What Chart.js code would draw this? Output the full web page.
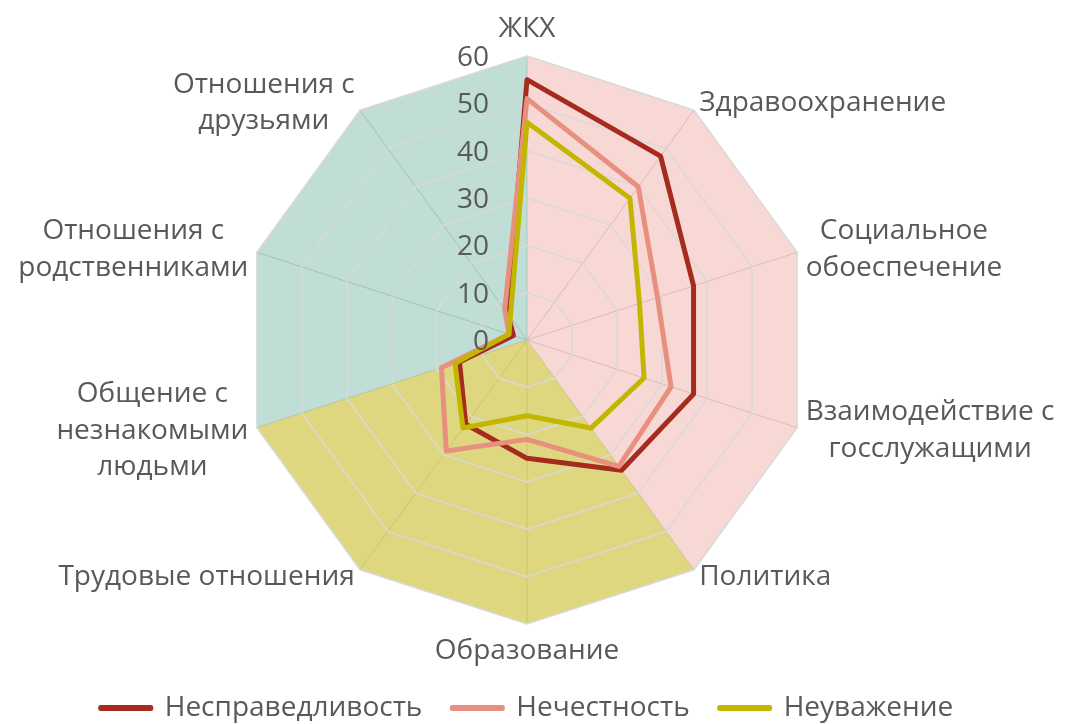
<!DOCTYPE html>
<html lang="ru">
<head>
<meta charset="utf-8">
<title>Радар</title>
<script src="https://cdn.jsdelivr.net/npm/chart.js@4.4.1/dist/chart.umd.min.js"></script>
<style>
  html, body { margin: 0; padding: 0; background: #fff; }
</style>
</head>
<body>
<canvas id="chart" width="1066" height="724"></canvas>
<script>
const categories = [
  'ЖКХ',
  'Здравоохранение',
  ['Социальное', 'обоеспечение'],
  ['Взаимодействие с', 'госслужащими'],
  'Политика',
  'Образование',
  'Трудовые отношения',
  ['Общение с', 'незнакомыми', 'людьми'],
  ['Отношения с', 'родственниками'],
  ['Отношения с', 'друзьями']
];
const injustice  = [55, 48, 37, 37, 34, 25, 22, 15, 3, 7];
const dishonesty = [51, 40, 29, 32, 33, 21, 29, 19, 4, 8];
const disrespect = [46, 37, 25, 26, 23, 16, 23, 16, 4, 6];
// shaded background sectors
const zoneState    = [60, 60, 60, 60, 60, 0, 0, 0, 0, 0];
const zoneWork     = [0, 0, 0, 0, 60, 60, 60, 60, 0, 0];
const zonePersonal = [60, 0, 0, 0, 0, 0, 0, 60, 60, 60];
const tickValues = [0, 10, 20, 30, 40, 50, 60];

const TEXT = '#595959';
const FONT = '"Open Sans", sans-serif';
const LINE_H = 36.5;
let ringsPass = false;

// rings go over the shaded sectors but under the lines, labels drawn like Excel does
const radarLayers = {
  id: 'radarLayers',
  beforeDatasetDraw(chart, args) {
    if (args.index !== 0) return;
    ringsPass = true;
    chart.scales.r.drawGrid(chart.chartArea);
    ringsPass = false;
  },
  afterDatasetsDraw(chart) {
    const s = chart.scales.r;
    const ctx = chart.ctx;
    ctx.save();
    ctx.fillStyle = TEXT;
    ctx.textBaseline = 'middle';
    ctx.font = '28px ' + FONT;
    ctx.textAlign = 'center';
    categories.forEach((label, i) => {
      const lines = [].concat(label);
      const p = s.getPointPosition(i, s.drawingArea + 9);
      const w = Math.max(...lines.map(t => ctx.measureText(t).width));
      const h = lines.length * LINE_H;
      const dx = p.x - s.xCenter;
      let cx = p.x;
      if (dx > 1) cx = p.x + w / 2;
      else if (dx < -1) cx = p.x - w / 2;
      let top = p.y - h / 2;
      if (Math.abs(dx) <= 1) top = p.y < s.yCenter ? p.y - h : p.y;
      lines.forEach((t, k) => ctx.fillText(t, cx, top + LINE_H * (k + 0.5)));
    });
    ctx.textAlign = 'right';
    s.ticks.forEach(t => {
      ctx.fillText(String(t.value), s.xCenter - 38, s.yCenter - s.getDistanceFromCenterForValue(t.value) + 2);
    });
    ctx.restore();
  }
};

const lineSet = (label, data, color, order) => ({
  label, data, order,
  borderColor: color,
  backgroundColor: color,
  borderWidth: 5,
  borderCapStyle: 'round',
  borderJoinStyle: 'round',
  pointRadius: 0,
  fill: false
});
const zoneSet = (data, color) => ({
  label: 'zone', data, order: 10,
  backgroundColor: color,
  borderWidth: 0,
  pointRadius: 0,
  fill: true
});

Chart.defaults.font.family = FONT;
Chart.defaults.color = TEXT;

new Chart(document.getElementById('chart'), {
  type: 'radar',
  data: {
    labels: categories,
    datasets: [
      lineSet('Несправедливость', injustice, '#A52B1F', 3),
      lineSet('Нечестность', dishonesty, '#E8907F', 2),
      lineSet('Неуважение', disrespect, '#C3B600', 1),
      zoneSet(zoneState, 'rgba(232,144,132,0.35)'),
      zoneSet(zoneWork, 'rgba(200,188,43,0.6)'),
      zoneSet(zonePersonal, 'rgba(75,158,138,0.35)')
    ]
  },
  options: {
    responsive: false,
    animation: false,
    layout: { padding: { top: 56, bottom: -8, left: 0, right: 12 } },
    plugins: {
      tooltip: { enabled: false },
      legend: {
        position: 'bottom',
        title: { display: true, text: '', font: { size: 1 }, padding: { top: 0, bottom: 38 } },
        labels: {
          filter: item => item.text !== 'zone',
          sort: (a, b) => a.datasetIndex - b.datasetIndex,
          boxWidth: 50,
          boxHeight: 1,
          padding: 30,
          color: TEXT,
          font: { size: 28, family: FONT }
        }
      }
    },
    scales: {
      r: {
        min: 0,
        max: 60,
        afterBuildTicks: s => { s.ticks = tickValues.map(v => ({ value: v })); },
        ticks: { display: false },
        pointLabels: { display: false },
        grid: { color: () => ringsPass ? '#D9D9D9' : 'rgba(0,0,0,0)', lineWidth: 1.5 },
        angleLines: { color: () => ringsPass ? 'rgba(0,0,0,0)' : '#D2D2D2', lineWidth: 1 }
      }
    }
  },
  plugins: [radarLayers]
});
</script>
</body>
</html>
